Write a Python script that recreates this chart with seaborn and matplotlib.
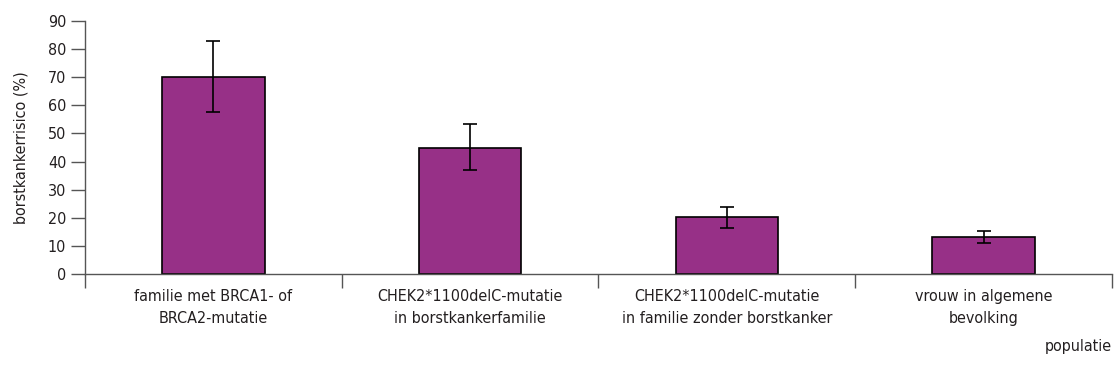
"""Borstkankerrisico per populatie, bar chart with error bars."""

import matplotlib.pyplot as plt
import numpy as np
import pandas as pd
import seaborn as sns

categories = [
    "familie met BRCA1- of\nBRCA2-mutatie",
    "CHEK2*1100delC-mutatie\nin borstkankerfamilie",
    "CHEK2*1100delC-mutatie\nin familie zonder borstkanker",
    "vrouw in algemene\nbevolking",
]
risk = [70, 45, 20.3, 13]
err_low = [57.5, 37, 16.5, 11]
err_high = [83, 53.5, 23.8, 15.4]

BAR_COLOR = "#973087"
INK = "#231f20"

sns.set_theme(style="white")
plt.rcParams["font.family"] = ["Liberation Sans Narrow", "DejaVu Sans"]
plt.rcParams["font.stretch"] = "condensed"

df = pd.DataFrame({"populatie": categories, "risico": risk})

fig = plt.figure(figsize=(11.15, 3.83), dpi=100)
ax = fig.add_axes([0.0762, 0.2846, 0.9211, 0.6604])

sns.barplot(data=df, x="populatie", y="risico", color=BAR_COLOR, width=0.4,
            saturation=1, edgecolor="black", linewidth=1.2, ax=ax)

x = np.arange(len(categories))
vals = np.array(risk)
yerr = [vals - np.array(err_low), np.array(err_high) - vals]
ax.errorbar(x, vals, yerr=yerr, fmt="none", ecolor="black", elinewidth=1.2,
            capsize=5, capthick=1.2)

ax.set_ylim(0, 90)
ax.set_xlim(-0.5, 3.5)
ax.set_yticks(range(0, 91, 10))
ax.set_xticks(x)
ax.set_xticklabels(categories, fontsize=11.5, color=INK, linespacing=1.6)
ax.set_xticks(np.arange(-0.5, 4, 1), minor=True)
ax.tick_params(axis="x", which="major", length=0, pad=11)
ax.tick_params(axis="x", which="minor", direction="out", length=10,
               width=1, color="#555555", bottom=True)
ax.tick_params(axis="y", direction="out", length=10, width=1,
               color="#555555", left=True, labelsize=11.5, labelcolor=INK)

for side in ["top", "right"]:
    ax.spines[side].set_visible(False)
for side in ["left", "bottom"]:
    ax.spines[side].set_color("#555555")
    ax.spines[side].set_linewidth(1)

ax.set_ylabel("borstkankerrisico (%)", fontsize=11.5, color=INK, labelpad=14)
ax.set_xlabel("populatie", fontsize=11.5, color=INK, loc="right", labelpad=9)

fig.savefig("out.png", dpi=100)
